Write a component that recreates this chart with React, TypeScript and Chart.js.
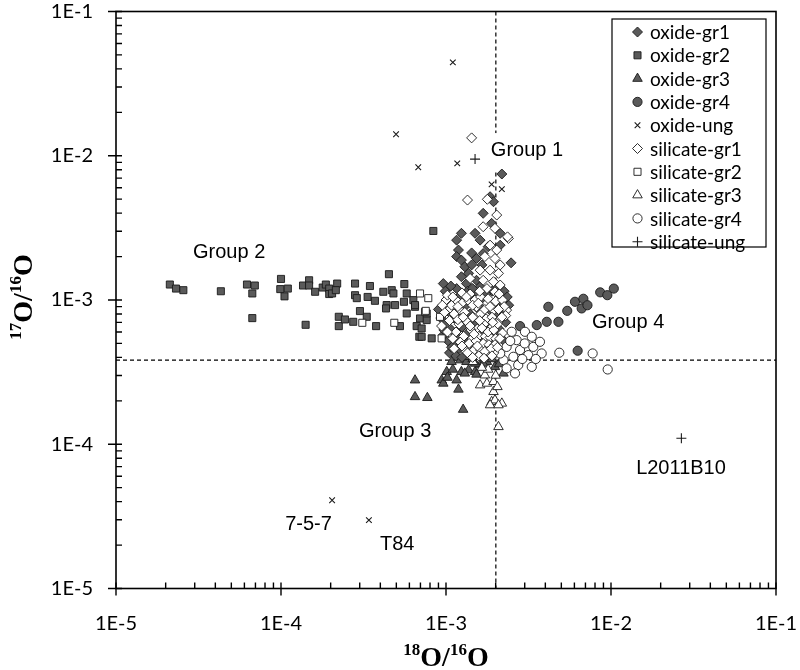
import React, { useEffect, useRef } from 'react';
import { Chart, registerables } from 'chart.js';
import { drawPoint } from 'chart.js/helpers';

Chart.register(...registerables);

// ---------- data (x = 18O/16O, y = 17O/16O) ----------
const oxideGr1: number[][] = [
  [2.18e-3, 7.47e-3], [1.68e-3, 3.99e-3], [1.89e-3, 3.40e-3], [1.24e-3, 2.90e-3], [1.50e-3, 2.90e-3],
  [1.16e-3, 2.60e-3], [1.61e-3, 2.60e-3], [2.13e-3, 2.90e-3], [1.19e-3, 2.22e-3], [1.43e-3, 2.12e-3],
  [1.80e-3, 2.34e-3], [2.13e-3, 2.40e-3], [1.16e-3, 2.00e-3], [1.24e-3, 1.89e-3], [1.53e-3, 1.94e-3],
  [1.68e-3, 2.10e-3], [2.48e-3, 1.81e-3], [1.30e-3, 1.70e-3], [1.43e-3, 1.75e-3], [1.65e-3, 1.75e-3],
  [1.24e-3, 1.45e-3], [1.37e-3, 1.53e-3], [9.63e-4, 1.30e-3], [1.16e-3, 1.20e-3], [1.33e-3, 1.30e-3],
  [1.53e-3, 1.37e-3], [1.27e-3, 1.08e-3], [1.61e-3, 1.24e-3], [1.11e-3, 9.98e-4], [1.46e-3, 9.98e-4],
  [2.13e-3, 1.05e-3], [2.23e-3, 9.47e-4], [1.85e-3, 5.20e-3], [1.94e-3, 4.80e-3],
  [1.00e-3, 9.0e-4], [1.05e-3, 8.2e-4], [1.12e-3, 7.5e-4], [1.20e-3, 8.5e-4], [1.30e-3, 9.0e-4],
  [1.40e-3, 8.0e-4], [1.55e-3, 8.8e-4], [1.70e-3, 9.5e-4], [1.85e-3, 8.5e-4], [2.00e-3, 7.8e-4],
  [2.20e-3, 8.2e-4], [1.00e-3, 6.8e-4], [1.08e-3, 6.2e-4], [1.15e-3, 5.6e-4], [1.25e-3, 6.5e-4],
  [1.35e-3, 5.9e-4], [1.50e-3, 6.7e-4], [1.65e-3, 6.0e-4], [1.80e-3, 6.6e-4], [1.95e-3, 5.8e-4],
  [2.10e-3, 6.3e-4], [1.10e-3, 5.0e-4], [1.20e-3, 4.6e-4], [1.30e-3, 5.2e-4], [1.45e-3, 4.8e-4],
  [1.60e-3, 5.3e-4], [1.75e-3, 4.7e-4], [1.90e-3, 5.0e-4], [1.05e-3, 4.3e-4], [1.40e-3, 4.2e-4],
  [1.70e-3, 4.2e-4], [2.00e-3, 4.4e-4], [9.3e-4, 7.5e-4], [9.6e-4, 5.7e-4], [2.30e-3, 7.0e-4],
  [2.40e-3, 9.2e-4], [1.55e-3, 1.10e-3], [1.90e-3, 1.15e-3], [2.05e-3, 1.25e-3], [1.35e-3, 1.15e-3],
  [9.0e-4, 8.6e-4], [9.7e-4, 6.2e-4], [1.03e-3, 5.2e-4], [1.08e-3, 4.7e-4], [1.15e-3, 4.1e-4],
  [9.9e-4, 1.15e-3], [1.07e-3, 1.25e-3], [1.20e-3, 1.05e-3], [1.45e-3, 1.20e-3], [1.75e-3, 1.10e-3],
  [2.25e-3, 1.15e-3], [2.35e-3, 1.05e-3], [2.25e-3, 5.2e-4], [1.55e-3, 4.3e-4], [1.25e-3, 4.0e-4],
];

const oxideGr2: number[][] = [
  [2.12e-5, 1.28e-3], [2.31e-5, 1.20e-3], [2.56e-5, 1.17e-3], [4.32e-5, 1.15e-3], [6.22e-5, 1.28e-3],
  [6.94e-5, 1.26e-3], [6.70e-5, 1.11e-3], [6.70e-5, 7.49e-4], [1.00e-4, 1.40e-3], [9.9e-5, 1.19e-3],
  [1.10e-4, 1.20e-3], [1.05e-4, 1.06e-3], [1.41e-4, 6.73e-4], [1.36e-4, 1.26e-3], [1.48e-4, 1.37e-3],
  [1.48e-4, 1.26e-3], [1.61e-4, 1.14e-3], [1.79e-4, 1.22e-3], [1.87e-4, 1.28e-3], [1.96e-4, 1.20e-3],
  [1.96e-4, 1.10e-3], [2.04e-4, 1.11e-3], [2.19e-4, 1.30e-3], [2.15e-4, 1.17e-3], [2.24e-4, 7.65e-4],
  [2.24e-4, 6.59e-4], [2.44e-4, 7.33e-4], [2.81e-4, 1.30e-3], [2.81e-4, 1.08e-3], [2.88e-4, 1.03e-3],
  [2.74e-4, 7.06e-4], [3.01e-4, 8.38e-4], [3.31e-4, 7.65e-4], [3.46e-4, 1.25e-3], [3.35e-4, 1.05e-3],
  [3.71e-4, 9.87e-4], [3.77e-4, 6.59e-4], [4.51e-4, 1.51e-3], [4.17e-4, 1.14e-3], [4.69e-4, 1.17e-3],
  [4.80e-4, 1.11e-3], [4.37e-4, 9.22e-4], [4.33e-4, 8.74e-4], [4.91e-4, 9.22e-4], [5.59e-4, 1.29e-3],
  [5.78e-4, 1.11e-3], [5.56e-4, 9.72e-4], [5.78e-4, 8.07e-4], [5.26e-4, 6.59e-4], [6.34e-4, 9.98e-4],
  [6.49e-4, 8.97e-4], [6.64e-4, 6.59e-4], [6.89e-4, 5.56e-4], [6.96e-4, 7.45e-4], [7.12e-4, 6.35e-4],
  [7.64e-4, 7.26e-4], [8.19e-4, 5.42e-4], [7.64e-4, 8.07e-4], [7.12e-4, 5.56e-4], [8.38e-4, 3.01e-3],
  [6.49e-4, 9.22e-4],
];

const oxideGr3: number[][] = [
  [6.49e-4, 2.78e-4], [6.49e-4, 2.13e-4], [7.71e-4, 2.10e-4], [1.27e-3, 1.74e-4], [9.42e-4, 2.78e-4],
  [9.63e-4, 2.64e-4], [1.01e-3, 3.18e-4], [1.08e-3, 3.73e-4], [1.16e-3, 2.78e-4], [1.19e-3, 2.40e-4],
  [1.24e-3, 3.18e-4], [1.37e-3, 3.27e-4], [1.50e-3, 3.18e-4], [1.22e-3, 3.83e-4], [1.33e-3, 3.73e-4],
  [1.37e-3, 4.04e-4], [1.61e-3, 3.54e-4], [1.77e-3, 3.73e-4], [1.98e-3, 3.44e-4], [2.23e-3, 3.10e-4],
  [1.53e-3, 3.05e-4], [1.68e-3, 3.63e-4], [1.50e-3, 3.63e-4], [1.10e-3, 3.30e-4], [1.45e-3, 3.90e-4],
  [1.90e-3, 3.90e-4], [2.10e-3, 3.60e-4], [1.02e-3, 2.90e-4], [1.30e-3, 3.10e-4],
];

const oxideGr4: number[][] = [
  [4.17e-3, 8.97e-4], [5.43e-3, 8.41e-4], [6.05e-3, 9.72e-4], [6.64e-3, 8.74e-4], [4.08e-3, 7.06e-4],
  [4.80e-3, 7.06e-4], [3.55e-3, 6.70e-4], [2.81e-3, 6.59e-4], [6.28e-3, 4.45e-4], [6.80e-3, 1.02e-3],
  [7.20e-3, 9.20e-4], [8.6e-3, 1.13e-3], [1.04e-2, 1.20e-3], [9.5e-3, 1.08e-3],
];

const oxideUng: number[][] = [
  [1.10e-3, 4.44e-2], [4.98e-4, 1.41e-2], [6.79e-4, 8.32e-3], [1.17e-3, 8.85e-3], [1.89e-3, 6.33e-3],
  [2.18e-3, 5.87e-3], [2.04e-4, 4.09e-5], [3.41e-4, 2.98e-5],
];

const silicateGr1: number[][] = [
  [1.43e-3, 1.33e-2], [1.35e-3, 4.93e-3], [1.78e-3, 4.99e-3], [2.03e-3, 3.88e-3], [1.68e-3, 3.22e-3],
  [1.98e-3, 3.14e-3], [2.39e-3, 2.67e-3], [1.85e-3, 2.40e-3], [2.03e-3, 2.22e-3], [1.72e-3, 2.00e-3],
  [1.98e-3, 1.94e-3], [2.13e-3, 1.75e-3], [1.61e-3, 1.61e-3], [1.85e-3, 1.61e-3], [2.08e-3, 1.53e-3],
  [1.40e-3, 1.41e-3], [1.68e-3, 1.37e-3], [1.94e-3, 1.34e-3], [2.13e-3, 1.27e-3], [1.77e-3, 1.20e-3],
  [1.98e-3, 1.14e-3], [1.06e-3, 8.74e-4], [1.22e-3, 8.51e-4], [1.53e-3, 8.97e-4], [1.77e-3, 9.47e-4],
  [1.94e-3, 8.51e-4], [2.33e-3, 8.51e-4], [2.36e-3, 2.74e-3],
  [1.00e-3, 1.00e-3], [1.08e-3, 9.2e-4], [1.15e-3, 1.00e-3], [1.25e-3, 9.5e-4], [1.38e-3, 9.8e-4],
  [1.50e-3, 1.00e-3], [1.62e-3, 1.05e-3], [1.80e-3, 1.02e-3], [2.00e-3, 9.8e-4], [2.20e-3, 1.00e-3],
  [1.12e-3, 8.0e-4], [1.30e-3, 8.2e-4], [1.45e-3, 7.6e-4], [1.62e-3, 8.0e-4], [1.75e-3, 7.4e-4],
  [1.90e-3, 7.6e-4], [2.10e-3, 7.2e-4], [2.30e-3, 7.8e-4], [1.05e-3, 7.2e-4], [1.20e-3, 6.8e-4],
  [1.35e-3, 7.0e-4], [1.55e-3, 6.3e-4], [1.70e-3, 6.8e-4], [1.88e-3, 6.4e-4], [2.05e-3, 6.8e-4],
  [2.20e-3, 5.9e-4], [1.15e-3, 6.0e-4], [1.28e-3, 5.6e-4], [1.42e-3, 6.2e-4], [1.58e-3, 5.6e-4],
  [1.73e-3, 5.6e-4], [1.85e-3, 5.5e-4], [2.00e-3, 5.4e-4], [1.22e-3, 5.1e-4], [1.38e-3, 5.0e-4],
  [1.52e-3, 5.2e-4], [1.68e-3, 5.0e-4], [1.82e-3, 4.9e-4], [1.98e-3, 4.9e-4], [1.30e-3, 4.5e-4],
  [1.48e-3, 4.5e-4], [1.62e-3, 4.5e-4], [1.80e-3, 4.4e-4], [1.95e-3, 4.3e-4], [1.58e-3, 4.1e-4],
  [9.8e-4, 8.2e-4], [2.25e-3, 9.0e-4], [1.60e-3, 1.15e-3], [1.40e-3, 1.10e-3], [1.25e-3, 1.12e-3],
  [2.10e-3, 1.10e-3],
  [1.02e-3, 1.08e-3], [1.10e-3, 1.05e-3], [1.18e-3, 9.0e-4], [1.33e-3, 1.05e-3], [1.45e-3, 9.2e-4],
  [1.57e-3, 9.5e-4], [1.72e-3, 8.6e-4], [1.85e-3, 9.0e-4], [2.08e-3, 8.6e-4], [2.18e-3, 7.6e-4],
  [9.5e-4, 9.2e-4], [9.4e-4, 6.6e-4], [1.02e-3, 6.0e-4], [1.10e-3, 5.4e-4], [1.18e-3, 7.3e-4],
  [1.27e-3, 7.6e-4], [1.40e-3, 6.6e-4], [1.48e-3, 5.8e-4], [1.65e-3, 6.4e-4], [1.80e-3, 6.0e-4],
  [1.95e-3, 6.2e-4], [2.12e-3, 5.4e-4], [1.92e-3, 7.0e-4], [1.60e-3, 7.2e-4], [1.12e-3, 4.6e-4],
  [1.25e-3, 4.8e-4], [1.35e-3, 4.3e-4], [1.55e-3, 4.8e-4], [1.72e-3, 4.4e-4], [1.88e-3, 4.6e-4],
  [2.05e-3, 4.7e-4], [1.45e-3, 4.0e-4], [1.70e-3, 3.95e-4], [1.90e-3, 4.1e-4],
];

const silicateGr2: number[][] = [
  [3.11e-4, 6.95e-4], [4.86e-4, 6.95e-4], [7.46e-4, 8.28e-4], [9.41e-4, 5.42e-4], [6.96e-4, 1.11e-3],
  [7.54e-4, 8.41e-4], [9.2e-4, 7.64e-4], [7.81e-4, 1.03e-3],
];

const silicateGr3: number[][] = [
  [1.72e-3, 3.01e-4], [1.61e-3, 2.57e-4], [1.77e-3, 2.64e-4], [1.94e-3, 2.71e-4], [1.94e-3, 2.31e-4],
  [1.89e-3, 1.97e-4], [1.98e-3, 2.02e-4], [2.18e-3, 1.92e-4], [1.85e-3, 1.87e-4], [2.08e-3, 1.87e-4],
  [1.46e-3, 3.73e-4], [2.08e-3, 1.32e-4], [1.80e-3, 3.30e-4], [2.00e-3, 3.00e-4], [1.65e-3, 3.40e-4],
  [2.05e-3, 2.50e-4],
];

const silicateGr4: number[][] = [
  [2.50e-3, 6.02e-4], [3.01e-3, 6.02e-4], [2.68e-3, 5.27e-4], [3.31e-3, 5.56e-4], [2.33e-3, 4.73e-4],
  [2.81e-3, 4.50e-4], [3.38e-3, 4.73e-4], [3.80e-3, 4.26e-4], [2.56e-3, 4.04e-4], [3.15e-3, 4.15e-4],
  [2.23e-3, 3.83e-4], [2.74e-3, 3.54e-4], [3.31e-3, 3.44e-4], [2.33e-3, 3.36e-4], [2.62e-3, 3.10e-4],
  [3.71e-3, 5.13e-4], [2.13e-3, 4.26e-4], [4.86e-3, 4.31e-4], [7.74e-3, 4.26e-4], [9.55e-3, 3.30e-4],
  [2.90e-3, 3.90e-4], [3.50e-3, 3.90e-4], [2.45e-3, 5.20e-4], [3.00e-3, 5.00e-4],
];

const silicateUng: number[][] = [
  [1.50e-3, 9.48e-3], [2.67e-2, 1.10e-4],
];

const seriesNames = [
  'oxide-gr1', 'oxide-gr2', 'oxide-gr3', 'oxide-gr4', 'oxide-ung',
  'silicate-gr1', 'silicate-gr2', 'silicate-gr3', 'silicate-gr4', 'silicate-ung',
];

const decades = [1e-5, 1e-4, 1e-3, 1e-2, 1e-1];
const xTickLabels = ['1E-5', '1E-4', '1E-3', '1E-2', '1E-1'];
const yTickLabels = ['1E-5', '1E-4', '1E-3', '1E-2', '1E-1'];

// solar reference values (dashed lines)
const solar18 = 2.005e-3;
const solar17 = 3.83e-4;

// annotation texts with their anchor in data space (left / baseline)
const annotations: { text: string; x: number; y: number; bg?: boolean }[] = [
  { text: 'Group 1', x: 1.87e-3, y: 9.95e-3, bg: true },
  { text: 'Group 2', x: 2.93e-5, y: 1.94e-3 },
  { text: 'Group 3', x: 2.97e-4, y: 1.12e-4 },
  { text: 'Group 4', x: 7.67e-3, y: 6.41e-4 },
  { text: 'L2011B10', x: 1.42e-2, y: 6.21e-5 },
  { text: '7-5-7', x: 1.06e-4, y: 2.53e-5 },
  { text: 'T84', x: 3.98e-4, y: 1.85e-5 },
];

const DARK = '#5a5a5a';
const EDGE = '#1a1a1a';

type Style = { pointStyle: string; radius: number; filled: boolean; line?: boolean };
const styles: Style[] = [
  { pointStyle: 'rectRot', radius: 5, filled: true },
  { pointStyle: 'rect', radius: 5, filled: true },
  { pointStyle: 'triangle', radius: 5.5, filled: true },
  { pointStyle: 'circle', radius: 4.6, filled: true },
  { pointStyle: 'crossRot', radius: 4, filled: false, line: true },
  { pointStyle: 'rectRot', radius: 5, filled: false },
  { pointStyle: 'rect', radius: 5, filled: false },
  { pointStyle: 'triangle', radius: 5.5, filled: false },
  { pointStyle: 'circle', radius: 4.6, filled: false },
  { pointStyle: 'cross', radius: 5, filled: false, line: true },
];

const allSeries = [
  oxideGr1, oxideGr2, oxideGr3, oxideGr4, oxideUng,
  silicateGr1, silicateGr2, silicateGr3, silicateGr4, silicateUng,
];

function drawTitle(ctx: CanvasRenderingContext2D, cx: number, cy: number, rot: number, sup1: string, sup2: string) {
  const big = 'bold 28px "Liberation Serif", "Times New Roman", serif';
  const small = 'bold 17px "Liberation Serif", "Times New Roman", serif';
  const parts: [string, string, number][] = [
    [sup1, small, -11], ['O/', big, 0], [sup2, small, -11], ['O', big, 0],
  ];
  let total = 0;
  const widths = parts.map(([t, f]) => { ctx.font = f; const w = ctx.measureText(t).width; total += w; return w; });
  ctx.save();
  ctx.translate(cx, cy);
  ctx.rotate(rot);
  ctx.fillStyle = '#000';
  ctx.textBaseline = 'alphabetic';
  ctx.textAlign = 'left';
  let x = -total / 2;
  parts.forEach(([t, f, dy], i) => {
    ctx.font = f;
    ctx.fillText(t, x, 10 + dy);
    x += widths[i];
  });
  ctx.restore();
}

const framePlugin = {
  id: 'frameAndRefs',
  beforeDatasetsDraw(chart: any) {
    const { ctx, chartArea, scales } = chart;
    const { left, right, top, bottom } = chartArea;
    const xs = scales.x;
    const ys = scales.y;
    ctx.save();
    // dashed solar lines
    ctx.strokeStyle = '#000';
    ctx.lineWidth = 1.2;
    ctx.setLineDash([4, 3]);
    const sx = xs.getPixelForValue(solar18);
    const sy = ys.getPixelForValue(solar17);
    ctx.beginPath();
    ctx.moveTo(sx, top);
    ctx.lineTo(sx, bottom);
    ctx.moveTo(left, sy);
    ctx.lineTo(right, sy);
    ctx.stroke();
    ctx.setLineDash([]);

    // frame
    ctx.lineWidth = 1.6;
    ctx.strokeStyle = '#000';
    ctx.strokeRect(left, top, right - left, bottom - top);

    // ticks
    ctx.lineWidth = 1.4;
    ctx.beginPath();
    for (let e = -5; e <= -1; e++) {
      for (let m = 1; m <= 9; m++) {
        const v = m * Math.pow(10, e);
        if (v > 0.1000001) break;
        const major = m === 1;
        const px = xs.getPixelForValue(v);
        ctx.moveTo(px, bottom + (major ? 7 : 0));
        ctx.lineTo(px, bottom - 6);
        const py = ys.getPixelForValue(v);
        ctx.moveTo(left - (major ? 8 : 0), py);
        ctx.lineTo(left + 6, py);
      }
    }
    ctx.stroke();

    // annotation texts
    ctx.font = '20px "Liberation Sans", Arial, sans-serif';
    ctx.textAlign = 'left';
    ctx.textBaseline = 'alphabetic';
    annotations.forEach((a) => {
      const ax = xs.getPixelForValue(a.x);
      const ay = ys.getPixelForValue(a.y);
      if (a.bg) {
        const w = ctx.measureText(a.text).width;
        ctx.fillStyle = '#fff';
        ctx.fillRect(ax - 2, ay - 23, w + 4, 37);
      }
      ctx.fillStyle = '#000';
      ctx.fillText(a.text, ax, ay);
    });
    ctx.restore();
  },
  afterDraw(chart: any) {
    const { ctx, chartArea } = chart;
    ctx.save();
    // axis titles
    drawTitle(ctx, (chartArea.left + chartArea.right) / 2, 656, 0, '18', '16');
    drawTitle(ctx, 22, (chartArea.top + chartArea.bottom) / 2 - 3, -Math.PI / 2, '17', '16');

    // legend
    const bx = 612, by = 19, bw = 154, bh = 228;
    ctx.fillStyle = '#fff';
    ctx.fillRect(bx, by, bw, bh);
    ctx.strokeStyle = '#000';
    ctx.lineWidth = 1.2;
    ctx.strokeRect(bx, by, bw, bh);
    ctx.font = '19px Lato, "Open Sans", sans-serif';
    ctx.textBaseline = 'middle';
    ctx.textAlign = 'left';
    seriesNames.forEach((name, i) => {
      const y = by + 13 + i * 23.3;
      const st = styles[i];
      ctx.fillStyle = st.filled ? DARK : '#fff';
      ctx.strokeStyle = EDGE;
      ctx.lineWidth = st.line ? 1.1 : 0.9;
      drawPoint(ctx, { pointStyle: st.pointStyle as any, rotation: 0, radius: st.radius, borderWidth: 1 }, 637.5, y);
      ctx.fillStyle = '#000';
      ctx.fillText(name, 650, y + 1);
    });
    ctx.restore();
  },
};

export default function App() {
  const ref = useRef<HTMLCanvasElement | null>(null);
  useEffect(() => {
    if (!ref.current) return;
    const datasets = allSeries.map((s, i) => {
      const st = styles[i];
      return {
        label: seriesNames[i],
        data: s.map(([x, y]) => ({ x, y })),
        pointStyle: st.pointStyle,
        pointRadius: st.radius,
        pointHoverRadius: st.radius,
        backgroundColor: st.filled ? DARK : '#fff',
        borderColor: EDGE,
        borderWidth: st.line ? 1.1 : 0.9,
        showLine: false,
        order: i >= 5 ? 0 : 1,
      };
    });
    const tickFont = { family: 'Lato, "Open Sans", sans-serif', size: 20 };
    const chart = new Chart(ref.current, {
      type: 'scatter',
      data: { datasets: datasets as any },
      options: {
        responsive: false,
        animation: false,
        devicePixelRatio: 1,
        events: [],
        layout: { padding: { left: 8, right: 24, top: 11.5, bottom: 0 } },
        scales: {
          x: {
            type: 'logarithmic',
            min: 1e-5,
            max: 1e-1,
            position: 'bottom',
            grid: { display: false, drawTicks: false },
            border: { display: false },
            afterBuildTicks: (s: any) => { s.ticks = decades.map((v) => ({ value: v })); },
            afterFit: (s: any) => { s.height = 81.5; s.paddingLeft = 0; s.paddingRight = 0; },
            ticks: {
              autoSkip: false,
              maxRotation: 0,
              padding: 23,
              color: '#000',
              font: tickFont,
              callback: (v: any) => {
                const i = decades.findIndex((d) => Math.abs(Math.log10(d) - Math.log10(Number(v))) < 1e-6);
                return i >= 0 ? xTickLabels[i] : '';
              },
            },
          },
          y: {
            type: 'logarithmic',
            min: 1e-5,
            max: 1e-1,
            position: 'left',
            grid: { display: false, drawTicks: false },
            border: { display: false },
            afterBuildTicks: (s: any) => { s.ticks = decades.map((v) => ({ value: v })); },
            afterFit: (s: any) => { s.width = 108; s.paddingTop = 0; s.paddingBottom = 0; },
            ticks: {
              autoSkip: false,
              padding: 23,
              color: '#000',
              font: tickFont,
              callback: (v: any) => {
                const i = decades.findIndex((d) => Math.abs(Math.log10(d) - Math.log10(Number(v))) < 1e-6);
                return i >= 0 ? yTickLabels[i] : '';
              },
            },
          },
        },
        plugins: { legend: { display: false }, tooltip: { enabled: false } },
      },
      plugins: [framePlugin],
    });
    return () => chart.destroy();
  }, []);
  return (
    <div style={{ position: 'absolute', left: 0, top: 0, width: 800, height: 670, background: '#fff' }}>
      <canvas ref={ref} width={800} height={670} style={{ display: 'block' }} />
    </div>
  );
}
